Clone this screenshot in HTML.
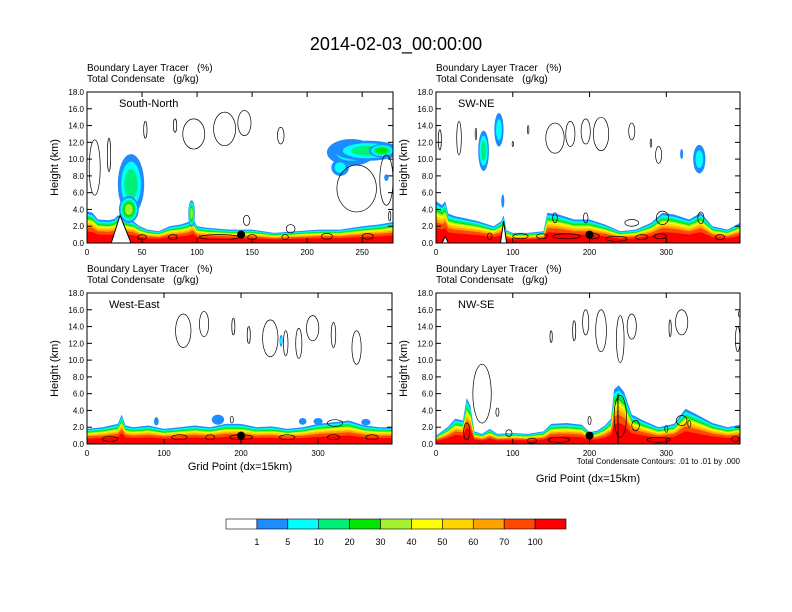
<!DOCTYPE html>
<html><head><meta charset="utf-8"><style>
body{margin:0;background:#fff}
svg{display:block;font-family:"Liberation Sans",sans-serif}
text{white-space:pre}
</style></head><body>
<svg id="c" width="792" height="612" viewBox="0 0 792 612" xmlns="http://www.w3.org/2000/svg">
<text x="396" y="50" font-size="18" text-anchor="middle">2014-02-03_00:00:00</text>
</svg>
<script>
const colors=["#ffffff","#1e8cff","#00ffff","#00f07a","#00e600","#a6f032","#ffff00","#ffd500","#ffa200","#ff4800","#ff0000"];
const cbLabels=["1","5","10","20","30","40","50","60","70","100"];
const bandFrac=[1.0,0.92,0.86,0.8,0.75,0.7,0.65,0.58,0.5,0.36];
const yTicks=[0,2,4,6,8,10,12,14,16,18];

const tlX=[0,5,10,20,25,28,32,36,42,48,55,65,75,85,92,96,100,110,130,150,170,190,210,230,250,265,278];
const tlH=[3.8,3.6,2.8,2.7,2.9,3.3,3.0,2.8,2.6,2.0,1.6,1.4,2.0,2.2,2.5,3.0,2.0,1.8,1.6,1.6,1.2,1.4,1.6,1.6,2.0,2.2,2.5];
const tlBlobs=[[40,7,12,3.6,3],[38,4,9,1.6,5],[95,3.5,3,1.6,5],[240,10.8,22,1.6,2],[255,11,30,1.2,3],[268,11,12,0.8,4],[230,9,8,1,2],[272,7.8,2,0.4,1]];
const tlCont=[[7,9,5,3.3],[20,10.5,1.5,2],[53,13.5,1.5,1],[80,14,1.5,0.8],[97,13,10,1.8],[125,13.6,10,2],[143,14.3,6,1.5],[176,12.8,3,1],[245,6.5,18,2.8],[272,7.5,6,3],[275,3.2,1,0.6],[145,2.7,3,0.6],[185,1.7,4,0.5],[50,0.7,4,0.3],[78,0.7,4,0.3],[120,0.7,18,0.3],[150,0.7,4,0.3],[180,0.7,3,0.3],[218,0.8,5,0.35],[255,0.8,5,0.35]];
const tlTerrain=[[22,0],[30,3.3],[40,0]];

const trX=[0,8,12,16,25,35,45,55,65,75,85,88,92,100,120,140,145,160,180,200,220,240,260,280,295,310,330,345,360,380,396];
const trH=[5,4.5,5,3.5,3.2,3.0,2.8,2.6,2.3,2.0,2.6,3.3,1.5,1.2,1.2,1.4,3.6,3.4,2.8,2.8,2.2,1.4,1.6,2.4,3.6,3.4,2.8,3.6,2.0,1.6,2.4];
const trBlobs=[[62,11,7,2.4,3],[82,13.5,6,2,2],[87,5,2,0.8,1],[343,10,8,1.7,2],[320,10.6,2,0.6,1]];
const trCont=[[5,12.3,2,1.2],[30,12.5,3,2],[52,13,1,0.7],[120,13.5,1,0.5],[100,11.8,0.8,0.3],[155,12.5,12,1.8],[175,13,6,1.5],[195,13.3,6,1.5],[215,13,10,2],[255,13.3,4,1],[280,11.9,1,0.5],[290,10.5,4,1],[155,3,3,0.6],[195,3,3,0.6],[255,2.4,9,0.4],[295,3,8,0.8],[345,3,4,0.7],[70,0.8,3,0.4],[110,0.8,10,0.3],[138,0.8,7,0.3],[170,0.8,18,0.3],[205,0.8,8,0.3],[235,0.5,14,0.3],[268,0.7,8,0.3],[292,0.8,8,0.3],[370,0.7,6,0.3]];
const trTerrain=[[8,0],[12,0.8],[16,0],[84,0],[88,2.6],[92,0]];

const blX=[0,20,40,45,50,60,80,100,120,140,160,180,200,220,240,260,280,300,320,340,360,380,396];
const blH=[1.8,2.0,2.4,3.5,2.2,2.0,2.2,1.8,2.0,2.2,2.0,2.4,2.4,2.0,2.1,1.8,2.0,2.4,2.6,2.8,2.2,2.0,2.0];
const blBlobs=[[90,2.7,3,0.5,1],[170,2.9,8,0.6,1],[280,2.7,5,0.4,1],[300,2.7,6,0.4,1],[362,2.6,6,0.4,1],[252,12.3,2,0.7,2]];
const blCont=[[125,13.5,10,2],[152,14.3,6,1.5],[190,14,2,1],[210,13,2,1],[238,12.6,10,2.2],[258,12,3,1.5],[275,12,4,1.8],[293,13.8,8,1.5],[320,13,3,1.5],[350,11.5,6,2],[322,2.5,10,0.4],[188,2.9,2,0.4],[120,0.8,10,0.3],[160,0.8,6,0.3],[200,0.8,15,0.3],[260,0.8,10,0.3],[320,0.8,8,0.3],[370,0.8,8,0.3],[30,0.6,10,0.3]];

const brX=[0,15,25,35,40,45,50,60,70,80,100,120,140,150,170,190,200,210,220,228,232,238,245,255,270,290,310,325,340,360,380,396];
const brH=[1.0,2.0,3.0,2.8,5.5,4.5,1.5,1.2,1.8,1.2,1.3,1.2,1.5,2.4,2.5,2.3,1.4,1.6,2.2,3.0,6.5,7,6.2,3.5,2.8,2.0,2.4,4.2,3.5,2.5,2.0,2.3];
const brBlobs=[];
const brCont=[[60,6,12,3.5],[80,3.8,2,0.5],[40,1.5,4,1],[95,1.3,4,0.4],[150,12.8,1.5,0.7],[180,13.5,2,1.2],[195,14.5,4,1.5],[215,13.5,7,2.5],[240,12.5,5,2.8],[255,14,6,1.5],[305,13.8,1.5,1],[320,14.5,8,1.5],[393,12.5,3,1.5],[395,15.5,1,0.3],[240,3.3,8,2.5],[260,2.2,5,0.6],[300,1.8,2,0.4],[320,2.8,7,0.6],[330,2.4,2,0.4],[160,0.5,14,0.3],[125,0.4,6,0.3],[290,0.5,15,0.3],[390,0.6,5,0.3],[200,2.8,2,0.5]];

const svg=document.getElementById('c');
const NS="http://www.w3.org/2000/svg";
function mk(tag,attrs,parent){const e=document.createElementNS(NS,tag);for(const k in attrs)e.setAttribute(k,attrs[k]);(parent||svg).appendChild(e);return e;}

function panel(p){
  const g=mk('g',{});
  
  
  const sx=v=>p.x0+(v/p.xmax)*(p.x1-p.x0);
  const sy=v=>p.y1-(v/18)*(p.y1-p.y0);
  mk('defs',{},g).innerHTML=`<clipPath id="cl${p.name}"><rect x="${p.x0}" y="${p.y0}" width="${p.x1-p.x0}" height="${p.y1-p.y0}"/></clipPath>`;
  const plot=mk('g',{'clip-path':`url(#cl${p.name})`},g);
  bandFrac.forEach((f,i)=>{
    let d=`M${sx(p.bx[0])},${sy(0)}`;
    p.bx.forEach((x,j)=>{d+=` L${sx(x).toFixed(1)},${sy(p.bh[j]*f).toFixed(1)}`;});
    d+=` L${sx(p.bx[p.bx.length-1])},${sy(0)} Z`;
    const e=mk('path',{d:d,fill:colors[i+1]},plot);
    
    
  });
  p.blobs.forEach(b=>{
    for(let l=1;l<=b[4];l++){
      const s=1-(l-1)/b[4]*0.75;
      const e=mk('ellipse',{cx:sx(b[0]),cy:sy(b[1]),rx:Math.abs(sx(b[2]*s)-sx(0)),ry:Math.abs(sy(0)-sy(b[3]*s)),fill:colors[l]},plot);
      
      
    }
  });
  if(p.terrain){
    let d='';p.terrain.forEach((t,i)=>{d+=(i%3==0?'M':'L')+sx(t[0])+','+sy(t[1])+' ';if(i%3==2)d+='Z ';});
    const e=mk('path',{d:d,fill:'#fff',stroke:'#000','stroke-width':1},plot);
    
    
  }
  p.cont.forEach(c=>{
    const e=mk('ellipse',{cx:sx(c[0]),cy:sy(c[1]),rx:Math.abs(sx(c[2])-sx(0)),ry:Math.abs(sy(0)-sy(c[3])),fill:'none',stroke:'#000','stroke-width':0.7},plot);
    
    
  });
  if(p.vline){mk('line',{x1:sx(p.vline),x2:sx(p.vline),y1:sy(0),y2:sy(6),stroke:'#000','stroke-width':1},plot);}
  const dot=mk('circle',{cx:sx(p.dot[0]),cy:sy(p.dot[1]),r:4,fill:'#000'},plot);
  
  
  const fr=mk('rect',{x:p.x0,y:p.y0,width:p.x1-p.x0,height:p.y1-p.y0,fill:'none',stroke:'#000','stroke-width':1},g);
  
  
  yTicks.forEach(t=>{
    mk('line',{x1:p.x0,x2:p.x0+5,y1:sy(t),y2:sy(t),stroke:'#000'},g);
    mk('line',{x1:p.x1,x2:p.x1-5,y1:sy(t),y2:sy(t),stroke:'#000'},g);
    const tx=mk('text',{x:p.x0-3,y:sy(t)+3,'font-size':8,'text-anchor':'end'},g);tx.textContent=t.toFixed(1);
    
    
  });
  for(let v=0;v<=p.xmax;v+=p.xstep){
    mk('line',{x1:sx(v),x2:sx(v),y1:p.y1,y2:p.y1-5,stroke:'#000'},g);
    mk('line',{x1:sx(v),x2:sx(v),y1:p.y0,y2:p.y0+5,stroke:'#000'},g);
    const tx=mk('text',{x:sx(v),y:p.y1+12,'font-size':8,'text-anchor':'middle'},g);tx.textContent=v;
    
    
  }
  const h1=mk('text',{x:p.x0,y:p.y0-21,'font-size':10},g);h1.textContent='Boundary Layer Tracer   (%)';
  
  const h2=mk('text',{x:p.x0,y:p.y0-10,'font-size':10},g);h2.textContent='Total Condensate   (g/kg)';
  
  const lb=mk('text',{x:p.x0+p.lx,y:p.y0+15,'font-size':11},g);lb.textContent=p.label;
  
  const yt=mk('text',{x:0,y:0,'font-size':11,'text-anchor':'middle',transform:`translate(${p.x0-29},${(p.y0+p.y1)/2}) rotate(-90)`},g);yt.textContent='Height (km)';
  
}
panel({name:'south-north',label:'South-North',lx:32,x0:87,x1:393,y0:92,y1:243,xmax:278,xstep:50,bx:tlX,bh:tlH,blobs:tlBlobs,cont:tlCont,terrain:tlTerrain,dot:[140,1.0]});
panel({name:'sw-ne',label:'SW-NE',lx:22,x0:436,x1:740,y0:92,y1:243,xmax:396,xstep:100,bx:trX,bh:trH,blobs:trBlobs,cont:trCont,terrain:trTerrain,dot:[200,1.0]});
panel({name:'west-east',label:'West-East',lx:22,x0:87,x1:392,y0:293,y1:444,xmax:396,xstep:100,bx:blX,bh:blH,blobs:blBlobs,cont:blCont,dot:[200,1.0]});
panel({name:'nw-se',label:'NW-SE',lx:22,x0:436,x1:740,y0:293,y1:444,xmax:396,xstep:100,bx:brX,bh:brH,blobs:brBlobs,cont:brCont,dot:[200,1.0],vline:237});

function txt(x,y,s,size,anchor,name){const t=mk('text',{x:x,y:y,'font-size':size,'text-anchor':anchor});t.textContent=s;}
txt(240,470,'Grid Point (dx=15km)',11,'middle','x-axis-title');
txt(588,482,'Grid Point (dx=15km)',11,'middle','x-axis-title');
txt(740,464,'Total Condensate Contours: .01 to .01 by .000',8,'end','contour-info');

const cbX0=226,cbW=340/11;
colors.forEach((c,i)=>{
  const r=mk('rect',{x:cbX0+i*cbW,y:519,width:cbW,height:10,fill:c,stroke:'#000','stroke-width':0.6});
  
  
});
cbLabels.forEach((l,i)=>{txt(cbX0+(i+1)*cbW,545,l,9,'middle','colorbar-label');});
</script>
</body></html>
